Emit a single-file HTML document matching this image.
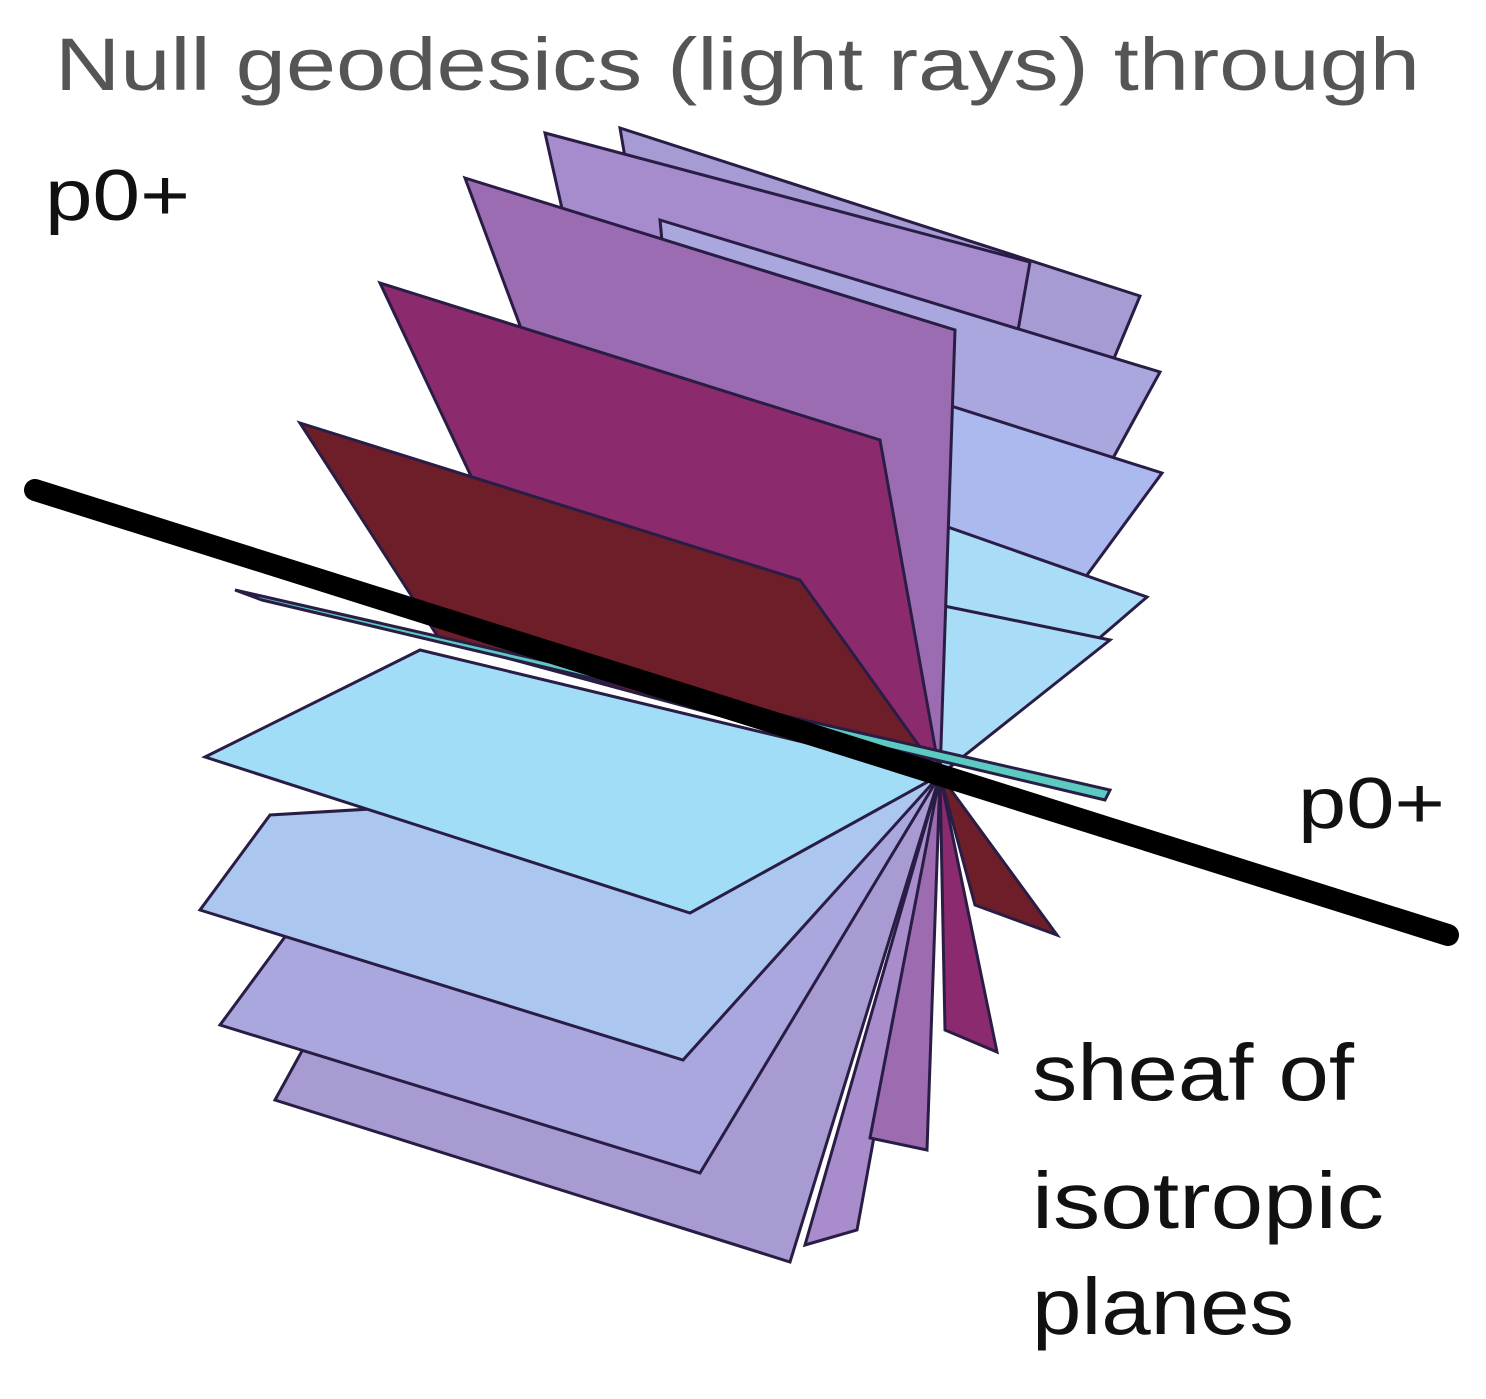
<!DOCTYPE html>
<html><head><style>
html,body{margin:0;padding:0;background:#fff;}
svg{display:block;}
text{font-family:"Liberation Sans","DejaVu Sans",sans-serif;}
</style></head><body>
<svg width="1486" height="1399" viewBox="0 0 1486 1399" xmlns="http://www.w3.org/2000/svg">
<g stroke="#2a1d45" stroke-width="3" stroke-linejoin="miter">
<polygon points="620,128 1140,296 940,775 700,600" fill="#a69bd2"/>
<polygon points="545,133 1030,262 940,775 650,600" fill="#a68ccc"/>
<polygon points="660,220 1160,372 940,775 700,640" fill="#aaa6de"/>
<polygon points="680,320 1162,473 940,775 700,680" fill="#abb9ee"/>
<polygon points="700,440 1147,597 940,775 700,700" fill="#a9dcf6"/>
<polygon points="720,560 1110,640 940,775" fill="#a9dcf6"/>
<polygon points="940,775 857,1230 805,1245" fill="#a88ccc"/>
<polygon points="940,775 927,1150 870,1138" fill="#9c6bb0"/>
<polygon points="940,775 997,1052 945,1030" fill="#8b2a6e"/>
<polygon points="940,775 1057,935 975,905" fill="#6e1e28"/>
<polygon points="465,178 955,330 940,775 600,540" fill="#9c6cb2"/>
<polygon points="380,283 880,440 940,775 520,580" fill="#8c2a6e"/>
<polygon points="300,423 800,580 940,775 440,640" fill="#6e1e28"/>
<polygon points="330,1000 275,1100 790,1262 940,775" fill="#a89bd2"/>
<polygon points="290,930 220,1025 700,1173 940,775" fill="#aaa6de"/>
<polygon points="270,815 200,910 683,1060 940,775" fill="#abc6ef"/>
<polygon points="420,650 205,757 690,913 940,775" fill="#a2ddf8"/>
<polygon points="235,590 1110,790 1105,800 262,600" fill="#5ccac0"/>
</g>
<line x1="35" y1="490" x2="1448" y2="935" stroke="#000" stroke-width="22" stroke-linecap="round"/>
<text x="55" y="90" font-size="74" fill="#555" textLength="1365" lengthAdjust="spacingAndGlyphs">Null geodesics (light rays) through</text>
<text x="45" y="220" font-size="72" fill="#111" textLength="145" lengthAdjust="spacingAndGlyphs">p0+</text>
<text x="1298" y="828" font-size="72" fill="#111" textLength="147" lengthAdjust="spacingAndGlyphs">p0+</text>
<text x="1032" y="1100" font-size="80" fill="#111" textLength="322" lengthAdjust="spacingAndGlyphs">sheaf of</text>
<text x="1032" y="1228" font-size="80" fill="#111" textLength="352" lengthAdjust="spacingAndGlyphs">isotropic</text>
<text x="1032" y="1334" font-size="80" fill="#111" textLength="262" lengthAdjust="spacingAndGlyphs">planes</text>
</svg>
</body></html>
